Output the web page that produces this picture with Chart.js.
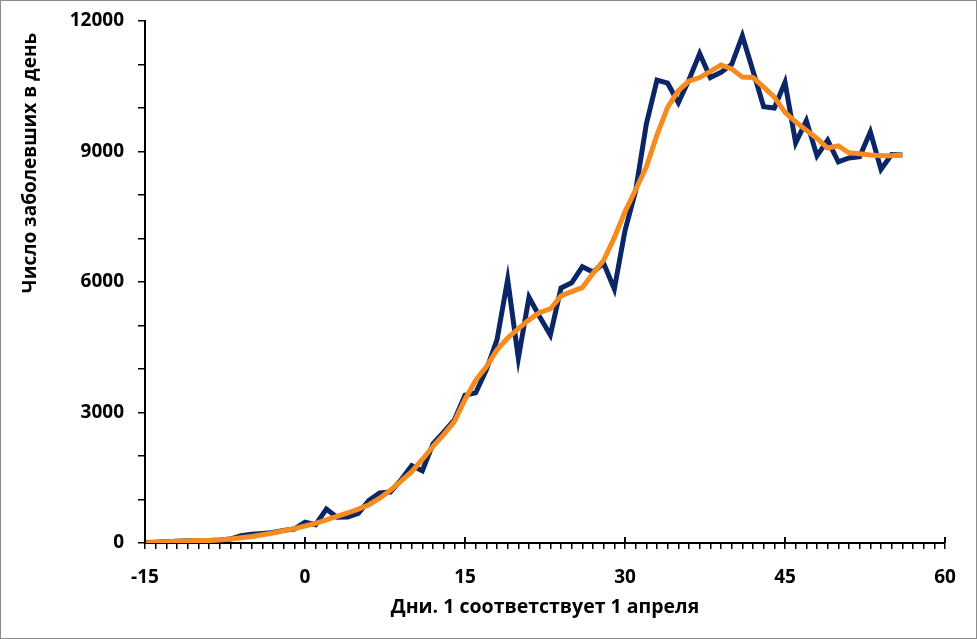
<!DOCTYPE html>
<html>
<head>
<meta charset="utf-8">
<script src="https://cdn.jsdelivr.net/npm/chart.js@4"></script>
<style>
  html, body { margin: 0; padding: 0; background: #ffffff; }
  #chart { display: block; }
</style>
</head>
<body>
<canvas id="chart" width="977" height="639"></canvas>
<script>
// Days (1 = 1 April)
const days = [-15, -14, -13, -12, -11, -10, -9, -8, -7, -6, -5, -4, -3, -2, -1,
    0, 1, 2, 3, 4, 5, 6, 7, 8, 9, 10, 11, 12, 13, 14, 15, 16, 17, 18, 19, 20,
    21, 22, 23, 24, 25, 26, 27, 28, 29, 30, 31, 32, 33, 34, 35, 36, 37, 38, 39, 40,
    41, 42, 43, 44, 45, 46, 47, 48, 49, 50, 51, 52, 53, 54, 55, 56];

// New cases per day
const dailyCases = [10, 20, 30, 40, 50, 50, 60, 70, 90, 170, 200, 220, 240, 290, 320,
    480, 420, 780, 590, 600, 680, 980, 1150, 1170, 1450, 1780, 1660, 2280, 2550, 2830,
    3400, 3450, 3980, 4670, 6060, 4250, 5650, 5200, 4780, 5860, 5980, 6350, 6230, 6430, 5840,
    7180, 8100, 9630, 10640, 10570, 10120, 10650, 11250, 10700, 10820, 11000,
    11660, 10850, 10030, 10000, 10590, 9200, 9710, 8900, 9260, 8760, 8850, 8880, 9450, 8590, 8930, 8920];

// Smoothed curve
const smoothed = [0, 20, 30, 40, 50, 55, 60, 70, 90, 120, 150, 190, 230, 280, 330,
    390, 450, 530, 610, 690, 780, 880, 1030, 1210, 1420, 1640, 1920, 2220, 2490, 2790,
    3300, 3740, 4050, 4440, 4710, 4930, 5130, 5300, 5380, 5680, 5780, 5870, 6200, 6500, 7020,
    7620, 8120, 8650, 9380, 10020, 10400, 10620, 10700, 10840, 10990, 10900,
    10710, 10700, 10480, 10250, 9900, 9680, 9490, 9300, 9080, 9130, 8970, 8950, 8920, 8900, 8900, 8920];

const xTickLabels = [-15, 0, 15, 30, 45, 60];
const yTickLabels = [0, 3000, 6000, 9000, 12000];

const xTitle = 'Дни. 1 соответствует 1 апреля';
const yTitle = 'Число заболевших в день';

const numFont = "'Open Sans', 'Noto Sans', sans-serif";
const textFont = "'Open Sans', 'Noto Sans', sans-serif";

// Titles, frame and the long ticks on the x axis
const decorPlugin = {
    id: 'decor',
    afterDraw(chart) {
        const ctx = chart.ctx;
        const area = chart.chartArea;
        const x = chart.scales.x;
        ctx.save();
        ctx.strokeStyle = '#8c8c8c';
        ctx.lineWidth = 1;
        ctx.strokeRect(0.5, 0.5, chart.width - 1, chart.height - 1);

        ctx.strokeStyle = '#000000';
        ctx.lineWidth = 2;
        xTickLabels.forEach(v => {
            const px = Math.round(x.getPixelForValue(v));
            ctx.beginPath();
            ctx.moveTo(px, area.bottom - 6);
            ctx.lineTo(px, area.bottom);
            ctx.stroke();
        });

        ctx.fillStyle = '#000000';
        ctx.textAlign = 'center';
        ctx.textBaseline = 'middle';
        ctx.font = 'bold 19.5px ' + textFont;
        ctx.fillText(xTitle, 545, 607);

        ctx.translate(31, 163);
        ctx.rotate(-Math.PI / 2);
        ctx.font = 'bold 19px ' + textFont;
        ctx.fillText(yTitle, 0, 0);
        ctx.restore();
    }
};

const ctx = document.getElementById('chart').getContext('2d');
const chart = new Chart(ctx, {
    type: 'line',
    data: {
        datasets: [{
            label: 'Сглаженное',
            data: days.map((d, i) => ({ x: d, y: smoothed[i] })),
            borderColor: '#f68b1f',
            borderWidth: 5,
            pointRadius: 0,
            tension: 0,
            order: 0
        }, {
            label: 'Заболевшие',
            data: days.map((d, i) => ({ x: d, y: dailyCases[i] })),
            borderColor: '#0b2667',
            borderWidth: 5,
            pointRadius: 0,
            tension: 0,
            order: 1
        }]
    },
    options: {
        responsive: false,
        animation: false,
        layout: { padding: { top: 21, right: 32, left: 0, bottom: 0 } },
        plugins: {
            legend: { display: false },
            tooltip: { enabled: false }
        },
        scales: {
            x: {
                type: 'linear',
                min: -15,
                max: 60,
                afterFit: scale => { scale.height = 96; },
                border: { display: true, color: '#000000', width: 2 },
                grid: {
                    display: true,
                    drawOnChartArea: false,
                    drawTicks: true,
                    tickLength: 6,
                    color: '#000000',
                    lineWidth: 1.5
                },
                ticks: {
                    stepSize: 1,
                    autoSkip: false,
                    maxRotation: 0,
                    padding: 17,
                    color: '#000000',
                    font: { family: numFont, size: 19, weight: 'bold' },
                    callback: v => (xTickLabels.includes(v) ? String(v) : '')
                }
            },
            y: {
                min: 0,
                max: 12000,
                afterFit: scale => {
                    scale.width = 145;
                    scale.paddingTop = 0;
                    scale.paddingBottom = 0;
                },
                border: { display: true, color: '#000000', width: 2 },
                grid: {
                    display: true,
                    drawOnChartArea: false,
                    drawTicks: true,
                    tickLength: 7,
                    color: '#000000',
                    lineWidth: 1.5
                },
                ticks: {
                    stepSize: 1000,
                    autoSkip: false,
                    padding: 14,
                    color: '#000000',
                    font: { family: numFont, size: 19, weight: 'bold' },
                    callback: v => (yTickLabels.includes(v) ? String(v) : '')
                }
            }
        }
    },
    plugins: [decorPlugin]
});
</script>
</body>
</html>
